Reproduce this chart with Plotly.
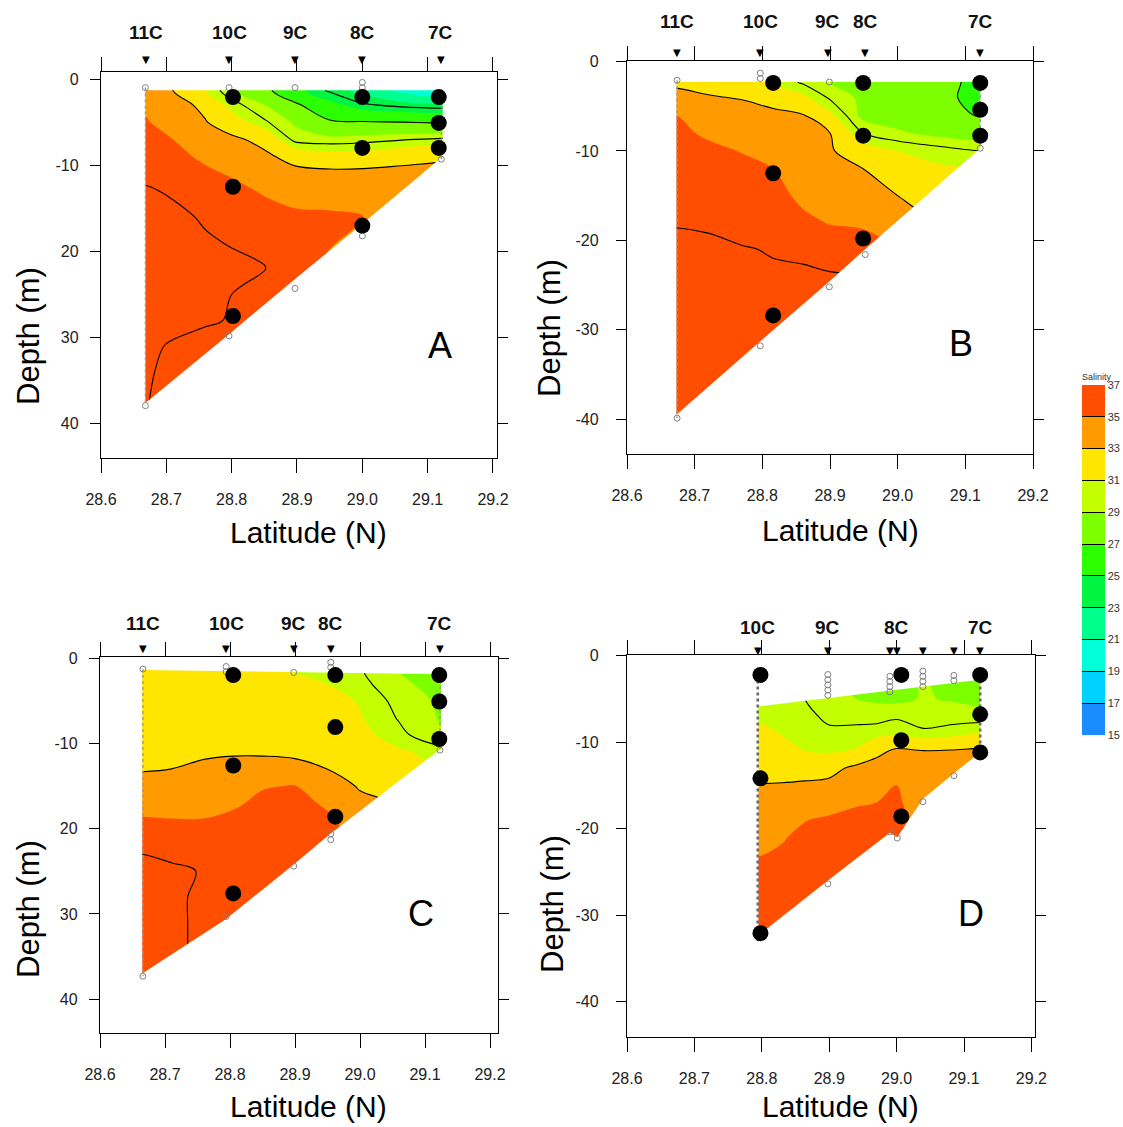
import plotly.graph_objects as go

FIG_W, FIG_H = 1123, 1127
FONT = "Liberation Sans, Arial, sans-serif"

# ---------------------------------------------------------------------------
# Salinity classes and isohalines
# ---------------------------------------------------------------------------
salinity_levels = [15, 17, 19, 21, 23, 25, 27, 29, 31, 33, 35, 37]
class_colors = ["#1a8cff", "#00d2ff", "#00ffd8", "#00ff8c", "#00f542", "#2bff00",
                "#7dff00", "#c3ff00", "#ffe600", "#ff9a00", "#ff4e00"]
isohalines = [24, 27, 30, 33, 36]

lat_ticks = [28.6, 28.7, 28.8, 28.9, 29.0, 29.1, 29.2]
depth_ticks = [0, 10, 20, 30, 40]

# ---------------------------------------------------------------------------
# Section A
# ---------------------------------------------------------------------------
A_lat = [28.668, 28.71, 28.76, 28.80, 28.85, 28.897, 28.95, 29.0, 29.06, 29.123]
A_depth = [1.3, 3, 5, 7, 9, 11, 13, 16, 19, 22, 25, 28, 31, 34, 38]
A_salinity = [
    [34.0, 33.0, 31.0, 29.2, 27.5, 25.5, 23.8, 22.5, 20.5, 18.5],
    [34.8, 33.8, 32.5, 30.5, 29.0, 27.3, 25.5, 24.2, 23.6, 23.3],
    [35.1, 34.5, 33.1, 31.8, 30.2, 28.8, 27.2, 27.1, 27.0, 26.8],
    [35.4, 35.0, 34.0, 33.4, 32.4, 29.6, 29.4, 29.6, 29.9, 30.2],
    [35.6, 35.3, 34.8, 34.2, 33.4, 32.3, 31.7, 31.6, 32.2, 32.6],
    [35.8, 35.5, 35.2, 34.9, 34.3, 33.6, 33.5, 33.6, 33.7, 33.8],
    [36.1, 35.9, 35.6, 35.3, 34.9, 34.6, 34.4, 34.3, 34.1, 34.0],
    [36.3, 36.2, 35.9, 35.6, 35.4, 35.2, 35.2, 35.05, 34.6, 34.5],
    [36.4, 36.3, 36.1, 35.95, 35.7, 35.4, 35.1, 34.6, 34.5, 34.5],
    [36.4, 36.4, 36.3, 36.2, 36.05, 35.4, 34.7, 34.5, 34.5, 34.5],
    [36.4, 36.4, 36.2, 36.0, 35.2, 34.7, 34.5, 34.5, 34.5, 34.5],
    [36.3, 36.3, 36.1, 35.95, 34.8, 34.5, 34.5, 34.5, 34.5, 34.5],
    [36.2, 35.9, 35.7, 35.4, 34.7, 34.5, 34.5, 34.5, 34.5, 34.5],
    [36.1, 35.8, 35.4, 35.0, 34.6, 34.5, 34.5, 34.5, 34.5, 34.5],
    [36.05, 35.6, 35.2, 34.8, 34.5, 34.5, 34.5, 34.5, 34.5, 34.5],
]
A_surface_lat = [28.668, 29.123]
A_surface_depth = [1.3, 1.3]
A_floor_lat = [28.668, 28.796, 28.897, 29.0, 29.123]
A_floor_depth = [37.6, 29.6, 23.2, 16.8, 9.0]
A_station = ["11C", "10C", "9C", "8C", "7C"]
A_station_lat = [28.669, 28.796, 28.897, 29.0, 29.120]
A_label = A_station
A_label_lat = A_station_lat
A_bottle_lat = [28.802, 29.0, 29.117, 29.117, 29.117, 29.0, 28.802, 29.0, 28.802]
A_bottle_depth = [2.1, 2.1, 2.1, 5.1, 8.0, 8.0, 12.5, 17.0, 27.5]
A_sample_lat = [28.668, 28.668, 28.796, 28.796, 28.897, 28.897, 29.0, 29.0, 29.0, 29.121]
A_sample_depth = [1.0, 37.9, 1.0, 29.8, 1.0, 24.3, 0.4, 1.0, 18.2, 9.3]
A_cast_lat = [28.668, 29.121]
A_cast_top = [1.0, 1.3]
A_cast_bottom = [37.9, 9.3]

# ---------------------------------------------------------------------------
# Section B
# ---------------------------------------------------------------------------
B_lat = [28.673, 28.72, 28.77, 28.816, 28.86, 28.90, 28.949, 29.0, 29.06, 29.122]
B_depth = [2.3, 4, 6, 8, 10, 12, 15, 18, 21, 24, 28, 32, 36, 40]
B_salinity = [
    [32.8, 32.5, 32.0, 31.0, 29.8, 29.0, 28.2, 28.0, 27.6, 26.5],
    [33.3, 33.1, 32.9, 32.5, 31.3, 29.8, 28.7, 28.2, 27.6, 26.3],
    [35.0, 34.2, 33.6, 33.3, 33.1, 31.3, 28.6, 28.3, 27.5, 26.9],
    [35.3, 34.8, 34.2, 33.8, 33.4, 33.0, 30.0, 29.2, 28.6, 28.2],
    [35.6, 35.3, 34.95, 34.4, 33.8, 33.2, 31.8, 31.0, 30.5, 30.0],
    [35.8, 35.6, 35.3, 35.0, 34.3, 33.8, 33.0, 32.0, 31.2, 31.0],
    [35.9, 35.8, 35.6, 35.3, 34.8, 34.4, 33.8, 33.0, 32.0, 31.5],
    [35.95, 35.9, 35.7, 35.5, 35.2, 34.95, 34.9, 34.3, 33.0, 32.0],
    [36.2, 36.15, 36.05, 35.95, 35.75, 35.5, 35.3, 35.1, 34.8, 34.5],
    [36.3, 36.3, 36.2, 36.1, 36.2, 36.1, 36.05, 35.8, 35.5, 35.0],
    [36.4, 36.4, 36.3, 36.2, 36.1, 36.1, 36.1, 36.1, 36.1, 36.1],
    [36.4, 36.4, 36.3, 36.2, 36.1, 36.1, 36.1, 36.1, 36.1, 36.1],
    [36.4, 36.4, 36.3, 36.2, 36.1, 36.1, 36.1, 36.1, 36.1, 36.1],
    [36.4, 36.4, 36.3, 36.2, 36.1, 36.1, 36.1, 36.1, 36.1, 36.1],
]
B_surface_lat = [28.673, 29.122]
B_surface_depth = [2.3, 2.3]
B_floor_lat = [28.673, 28.797, 28.899, 28.952, 29.122]
B_floor_depth = [39.5, 31.3, 24.6, 21.0, 9.7]
B_station = ["11C", "10C", "9C", "8C", "7C"]
B_station_lat = [28.674, 28.797, 28.897, 28.952, 29.122]
B_label = B_station
B_label_lat = B_station_lat
B_bottle_lat = [28.816, 28.949, 29.122, 29.122, 29.122, 28.949, 28.816, 28.949, 28.816]
B_bottle_depth = [2.4, 2.4, 2.4, 5.4, 8.3, 8.3, 12.5, 19.8, 28.4]
B_sample_lat = [28.674, 28.674, 28.797, 28.797, 28.797, 28.899, 28.899, 28.952, 29.122]
B_sample_depth = [2.1, 39.9, 1.3, 1.9, 31.8, 2.3, 25.2, 21.6, 9.7]
B_cast_lat = [28.674, 29.122]
B_cast_top = [2.1, 2.4]
B_cast_bottom = [39.9, 9.7]

# ---------------------------------------------------------------------------
# Section C
# ---------------------------------------------------------------------------
C_lat = [28.665, 28.71, 28.76, 28.805, 28.85, 28.90, 28.954, 29.0, 29.06, 29.125]
C_depth = [1.5, 3, 5, 7, 9, 11, 13, 15, 17, 19, 22, 25, 28, 31, 34, 37]
C_salinity = [
    [32.0, 32.0, 31.9, 31.7, 31.4, 30.9, 30.5, 30.1, 29.0, 28.3],
    [32.2, 32.2, 32.1, 32.0, 31.8, 31.4, 30.95, 30.3, 29.3, 28.4],
    [32.3, 32.3, 32.2, 32.1, 32.0, 31.8, 31.4, 30.9, 29.6, 28.8],
    [32.4, 32.4, 32.3, 32.2, 32.1, 32.0, 31.7, 31.1, 29.9, 28.9],
    [32.5, 32.5, 32.5, 32.4, 32.3, 32.2, 32.0, 31.5, 30.3, 29.1],
    [32.7, 32.75, 32.8, 32.85, 32.85, 32.8, 32.6, 32.0, 31.2, 30.5],
    [32.9, 33.0, 33.25, 33.45, 33.45, 33.3, 32.95, 32.5, 31.8, 31.0],
    [33.5, 33.7, 34.0, 34.2, 34.9, 35.05, 34.0, 32.8, 32.3, 31.5],
    [34.6, 34.5, 34.5, 34.8, 35.3, 35.25, 34.85, 33.5, 33.0, 32.5],
    [35.1, 35.05, 35.05, 35.3, 35.5, 35.5, 35.1, 34.5, 34.0, 33.5],
    [35.9, 35.7, 35.6, 35.6, 35.6, 35.6, 35.3, 35.0, 35.0, 35.0],
    [36.2, 36.15, 35.95, 35.7, 35.7, 35.6, 35.5, 35.3, 35.2, 35.2],
    [36.3, 36.1, 35.9, 35.7, 35.6, 35.5, 35.4, 35.3, 35.2, 35.2],
    [36.3, 36.1, 35.9, 35.7, 35.6, 35.5, 35.4, 35.3, 35.2, 35.2],
    [36.3, 36.1, 35.9, 35.7, 35.6, 35.5, 35.4, 35.3, 35.2, 35.2],
    [36.3, 36.1, 35.9, 35.7, 35.6, 35.5, 35.4, 35.3, 35.2, 35.2],
]
C_surface_lat = [28.665, 29.125]
C_surface_depth = [1.4, 1.9]
C_floor_lat = [28.665, 28.794, 28.898, 28.953, 29.125]
C_floor_depth = [37.0, 30.6, 24.2, 20.7, 10.6]
C_station = ["11C", "10C", "9C", "8C", "7C"]
C_station_lat = [28.666, 28.794, 28.898, 28.955, 29.123]
C_label = C_station
C_label_lat = C_station_lat
C_bottle_lat = [28.805, 28.962, 29.122, 29.122, 29.122, 28.962, 28.805, 28.962, 28.805]
C_bottle_depth = [2.0, 2.0, 2.0, 5.1, 9.5, 8.1, 12.6, 18.6, 27.6]
C_sample_lat = [28.666, 28.666, 28.794, 28.794, 28.794, 28.898, 28.898,
                28.955, 28.955, 28.955, 28.955, 29.123]
C_sample_depth = [1.3, 37.3, 1.0, 1.6, 30.3, 1.7, 24.4, 0.5, 1.1, 20.6, 21.3, 10.8]
C_cast_lat = [28.666, 29.123]
C_cast_top = [1.3, 1.9]
C_cast_bottom = [37.3, 10.8]

# ---------------------------------------------------------------------------
# Section D
# ---------------------------------------------------------------------------
D_lat = [28.795, 28.83, 28.864, 28.899, 28.94, 28.97, 29.0, 29.04, 29.08, 29.124]
D_depth = [2.8, 5, 7, 9, 11, 13, 15, 17, 19, 21, 24, 28, 33]
D_salinity = [
    [30.6, 30.4, 30.0, 29.3, 28.7, 28.5, 28.6, 29.1, 28.6, 28.3],
    [30.6, 30.4, 30.0, 29.4, 29.0, 28.8, 28.7, 29.1, 28.9, 28.7],
    [30.8, 30.6, 30.25, 29.8, 29.6, 29.6, 29.8, 29.5, 29.5, 29.4],
    [31.3, 30.95, 30.6, 30.2, 30.4, 30.5, 30.8, 30.2, 30.5, 31.0],
    [32.0, 31.5, 31.0, 30.8, 31.1, 32.5, 33.3, 33.0, 33.1, 33.3],
    [32.5, 32.4, 32.4, 32.4, 33.4, 33.7, 34.0, 34.0, 34.0, 34.0],
    [33.05, 33.1, 33.2, 33.4, 33.9, 34.3, 35.0, 34.3, 34.2, 34.0],
    [33.6, 33.8, 34.0, 34.4, 34.9, 35.0, 35.2, 34.3, 34.2, 34.0],
    [34.2, 34.4, 34.95, 35.2, 35.3, 35.3, 35.3, 34.5, 34.2, 34.0],
    [34.7, 34.9, 35.3, 35.4, 35.4, 35.4, 35.3, 34.5, 34.2, 34.0],
    [35.1, 35.3, 35.5, 35.5, 35.5, 35.5, 35.3, 34.5, 34.2, 34.0],
    [35.4, 35.5, 35.6, 35.6, 35.6, 35.5, 35.3, 34.5, 34.2, 34.0],
    [35.6, 35.6, 35.6, 35.6, 35.6, 35.5, 35.3, 34.5, 34.2, 34.0],
]
D_surface_lat = [28.794, 29.124]
D_surface_depth = [5.9, 2.8]
D_floor_lat = [28.794, 28.898, 28.990, 29.001, 29.039, 29.085, 29.124]
D_floor_depth = [32.4, 26.0, 20.5, 21.0, 16.6, 13.6, 11.2]
D_station_lat = [28.794, 28.898, 28.990, 29.001, 29.039, 29.085, 29.124]
D_label = ["10C", "9C", "8C", "7C"]
D_label_lat = [28.794, 28.898, 29.0, 29.124]
D_bottle_lat = [28.798, 29.007, 29.124, 29.124, 29.124, 29.007, 28.798, 29.007, 28.798]
D_bottle_depth = [2.25, 2.25, 2.25, 6.8, 11.2, 9.8, 14.2, 18.6, 32.1]
D_sample_lat = [28.898, 28.898, 28.898, 28.898, 28.898, 28.898,
                28.990, 28.990, 28.990, 28.990, 28.990, 29.001,
                29.039, 29.039, 29.039, 29.039, 29.039,
                29.085, 29.085, 29.085]
D_sample_depth = [2.2, 2.8, 3.4, 4.0, 4.6, 26.4,
                  2.4, 3.0, 3.6, 4.2, 20.4, 21.1,
                  1.8, 2.4, 3.0, 3.6, 16.9,
                  2.3, 2.9, 13.9]
D_cast_lat = [28.794, 29.124]
D_cast_top = [2.2, 2.2]
D_cast_bottom = [33.0, 11.5]


def section(p):
    g = globals()
    return dict(lat=g[p + "_lat"], depth=g[p + "_depth"], sal=g[p + "_salinity"],
                surf_lat=g[p + "_surface_lat"], surf_depth=g[p + "_surface_depth"],
                floor_lat=g[p + "_floor_lat"], floor_depth=g[p + "_floor_depth"],
                st_lat=g[p + "_station_lat"], label=g[p + "_label"], label_lat=g[p + "_label_lat"],
                b_lat=g[p + "_bottle_lat"], b_depth=g[p + "_bottle_depth"],
                s_lat=g[p + "_sample_lat"], s_depth=g[p + "_sample_depth"],
                c_lat=g[p + "_cast_lat"], c_top=g[p + "_cast_top"], c_bot=g[p + "_cast_bottom"])


sections = {p: section(p) for p in "ABCD"}

# Panel frames in pixels: box=(left, right, top, bottom); z0 = pixel row of 0 m
frames = {
    "A": dict(box=(101, 497, 72, 458), ppd=653.3, z0=79.0, ppm=8.62, ylab=["0", "-10", "20", "30", "40"],
              label_py=32, marker_py=60, letter=(440, 345), ytitle=(28, 336), xtitle=(308, 532), ystand=8,
              cast_w=1.4, cast_c="#9a9a9a"),
    "B": dict(box=(627, 1033, 61, 454), ppd=676.7, z0=61.5, ppm=8.94, ylab=["0", "-10", "-20", "-30", "-40"],
              label_py=22, marker_py=53, letter=(961, 343), ytitle=(550, 328), xtitle=(840, 530), ystand=14,
              cast_w=1.4, cast_c="#9a9a9a"),
    "C": dict(box=(100, 498, 657, 1033), ppd=650.0, z0=658.0, ppm=8.53, ylab=["0", "-10", "20", "30", "40"],
              label_py=623, marker_py=648, letter=(421, 913), ytitle=(28, 909), xtitle=(308, 1106), ystand=8,
              cast_w=1.4, cast_c="#9a9a9a"),
    "D": dict(box=(627, 1035, 655, 1037), ppd=674.0, z0=655.5, ppm=8.65, ylab=["0", "-10", "-20", "-30", "-40"],
              label_py=627, marker_py=650, letter=(971, 913), ytitle=(552, 904), xtitle=(840, 1106), ystand=14,
              cast_w=2.6, cast_c="#6a6a6a"),
}

# Contour fill colours: plotly samples the scale at band centres between
# (first level - step/2) and (last level + step/2).
band_cols = ["white"] + class_colors + [class_colors[-1]]
fill_scale = [[k / (len(band_cols) - 1), c] for k, c in enumerate(band_cols)]
black_scale = [[0, "black"], [1, "black"]]

# Stepped scale for the salinity key
n_cls = len(class_colors)
key_scale = []
for k, c in enumerate(class_colors):
    key_scale += [[k / n_cls, c], [(k + 1) / n_cls, c]]
class_mid = [(a + b) / 2 for a, b in zip(salinity_levels[:-1], salinity_levels[1:])]


def paper(px, py):
    return px / FIG_W, 1 - py / FIG_H


def padded_grid(sec):
    """Extend the grid one step past each edge so the section outline is cut
    by the white masks rather than by the contour fill's own edge."""
    lat = [sec["lat"][0] - 0.02] + sec["lat"] + [sec["lat"][-1] + 0.02]
    depth = [sec["depth"][0] - 2.5] + sec["depth"]
    rows = [sec["sal"][0]] + sec["sal"]
    rows = [[r[0]] + r + [r[-1]] for r in rows]
    return lat, depth, rows


def white_mask(fig, xs, ys, xa, ya):
    fig.add_trace(go.Scatter(
        x=xs, y=ys, fill="toself", fillcolor="white", mode="lines",
        line=dict(width=0, color="white"), xaxis=xa, yaxis=ya,
        hoverinfo="skip", showlegend=False))


fig = go.Figure()
annotations = []
axes = {}

for i, key in enumerate("ABCD", start=1):
    sec, fr = sections[key], frames[key]
    sfx = "" if i == 1 else str(i)
    xa, ya = "x" + sfx, "y" + sfx
    x0, x1, y0, y1 = fr["box"]

    glat, gdepth, grows = padded_grid(sec)
    elev = [-d for d in gdepth][::-1]
    zrows = grows[::-1]

    # filled salinity classes
    fig.add_trace(go.Contour(
        x=glat, y=elev, z=zrows, xaxis=xa, yaxis=ya, autocontour=False,
        contours=dict(start=salinity_levels[0], end=salinity_levels[-1],
                      size=salinity_levels[1] - salinity_levels[0], coloring="fill", showlines=False),
        colorscale=fill_scale, showscale=False, line=dict(width=0, smoothing=1),
        hoverinfo="skip"))
    # isohalines
    fig.add_trace(go.Contour(
        x=glat, y=elev, z=zrows, xaxis=xa, yaxis=ya, autocontour=False,
        contours=dict(start=isohalines[0], end=isohalines[-1], size=isohalines[1] - isohalines[0],
                      coloring="lines"),
        colorscale=black_scale, showscale=False, line=dict(width=1.1, smoothing=1),
        hoverinfo="skip"))

    # white masks around the sampled section: above, below, west, east
    west, east = sec["lat"][0], sec["lat"][-1]
    lo, hi = west - 0.05, east + 0.05
    top, deep = 3.0, -(max(sec["depth"]) + 8)
    sl, sd = sec["surf_lat"], sec["surf_depth"]
    fl, fd = sec["floor_lat"], sec["floor_depth"]
    white_mask(fig, [lo] + sl + [hi, hi, lo],
               [-sd[0]] + [-d for d in sd] + [-sd[-1], top, top], xa, ya)
    white_mask(fig, [lo] + fl + [hi, hi, lo],
               [-fd[0]] + [-d for d in fd] + [-fd[-1], deep, deep], xa, ya)
    white_mask(fig, [lo, west, west, lo], [top, top, deep, deep], xa, ya)
    white_mask(fig, [east, hi, hi, east], [top, top, deep, deep], xa, ya)

    # continuous CTD casts on the section edges
    for lat, ctop, cbot in zip(sec["c_lat"], sec["c_top"], sec["c_bot"]):
        fig.add_trace(go.Scatter(
            x=[lat, lat], y=[-ctop, -cbot], mode="lines",
            line=dict(color=fr["cast_c"], width=fr["cast_w"], dash="dot"),
            xaxis=xa, yaxis=ya, hoverinfo="skip", showlegend=False))
    # individual sample depths
    fig.add_trace(go.Scatter(
        x=sec["s_lat"], y=[-d for d in sec["s_depth"]], mode="markers",
        marker=dict(symbol="circle-open", size=6, color="#808080", line=dict(width=1)),
        xaxis=xa, yaxis=ya, hoverinfo="skip", showlegend=False))
    # bottle samples
    fig.add_trace(go.Scatter(
        x=sec["b_lat"], y=[-d for d in sec["b_depth"]], mode="markers",
        marker=dict(size=16, color="black"),
        xaxis=xa, yaxis=ya, hoverinfo="skip", showlegend=False))

    # station markers above the frame
    for lat in sec["st_lat"]:
        annotations.append(dict(
            x=lat, xref=xa, y=1 - fr["marker_py"] / FIG_H, yref="paper", text="▼",
            showarrow=False, xanchor="center", yanchor="middle",
            font=dict(family="DejaVu Sans", size=10, color="black")))
    for name, lat in zip(sec["label"], sec["label_lat"]):
        annotations.append(dict(
            x=lat, xref=xa, y=1 - fr["label_py"] / FIG_H, yref="paper", text=f"<b>{name}</b>",
            showarrow=False, xanchor="center", yanchor="middle",
            font=dict(family=FONT, size=19, color="#111")))

    lx, ly = paper(*fr["letter"])
    annotations.append(dict(x=lx, y=ly, xref="paper", yref="paper", text=key, showarrow=False,
                            xanchor="center", yanchor="middle",
                            font=dict(family=FONT, size=36, color="black")))
    tx, ty = paper(*fr["ytitle"])
    annotations.append(dict(x=tx, y=ty, xref="paper", yref="paper", text="Depth (m)", textangle=-90,
                            showarrow=False, xanchor="center", yanchor="middle",
                            font=dict(family=FONT, size=31, color="black")))
    tx, ty = paper(*fr["xtitle"])
    annotations.append(dict(x=tx, y=ty, xref="paper", yref="paper", text="Latitude (N)",
                            showarrow=False, xanchor="center", yanchor="middle",
                            font=dict(family=FONT, size=30, color="black")))

    axes["xaxis" + sfx] = dict(
        domain=[x0 / FIG_W, x1 / FIG_W], range=[28.6, 28.6 + (x1 - x0) / fr["ppd"]], anchor=ya,
        tickvals=lat_ticks, ticktext=[f"{v:.1f}" for v in lat_ticks],
        ticks="outside", ticklen=14, tickwidth=1.3, tickcolor="black",
        showline=True, linecolor="black", linewidth=1.3, mirror="ticks",
        showgrid=False, zeroline=False, ticklabelstandoff=13,
        tickfont=dict(family=FONT, size=16, color="#222"))
    axes["yaxis" + sfx] = dict(
        domain=[1 - y1 / FIG_H, 1 - y0 / FIG_H],
        range=[(fr["z0"] - y1) / fr["ppm"], (fr["z0"] - y0) / fr["ppm"]], anchor=xa,
        tickvals=[-d for d in depth_ticks], ticktext=fr["ylab"],
        ticks="outside", ticklen=10, tickwidth=1.3, tickcolor="black",
        showline=True, linecolor="black", linewidth=1.3, mirror="ticks",
        showgrid=False, zeroline=False, ticklabelstandoff=fr["ystand"],
        tickfont=dict(family=FONT, size=16, color="#222"))

# Salinity key
cb_x, cb_y = paper(1082, 370)
fig.add_trace(go.Scatter(
    x=[None] * len(class_mid), y=[None] * len(class_mid), mode="markers",
    marker=dict(color=class_mid, colorscale=key_scale, cmin=salinity_levels[0], cmax=salinity_levels[-1],
                showscale=True,
                colorbar=dict(thickness=23, thicknessmode="pixels", len=365, lenmode="pixels",
                              x=cb_x, xanchor="left", xpad=0, y=cb_y, yanchor="top", ypad=0,
                              tickvals=salinity_levels, ticks="inside", ticklen=23, tickwidth=1.4,
                              tickcolor="black", outlinewidth=0,
                              tickfont=dict(family=FONT, size=11, color="#333"),
                              title=dict(text="Salinity", side="top",
                                         font=dict(family=FONT, size=9, color="#333")))),
    xaxis="x", yaxis="y", hoverinfo="skip", showlegend=False))

fig.update_layout(
    width=FIG_W, height=FIG_H, autosize=False,
    margin=dict(l=0, r=0, t=0, b=0, pad=0, autoexpand=False),
    paper_bgcolor="white", plot_bgcolor="white",
    template="none", showlegend=False,
    font=dict(family=FONT, color="black"),
    annotations=annotations,
    **axes,
)

fig.write_html("out.html")
